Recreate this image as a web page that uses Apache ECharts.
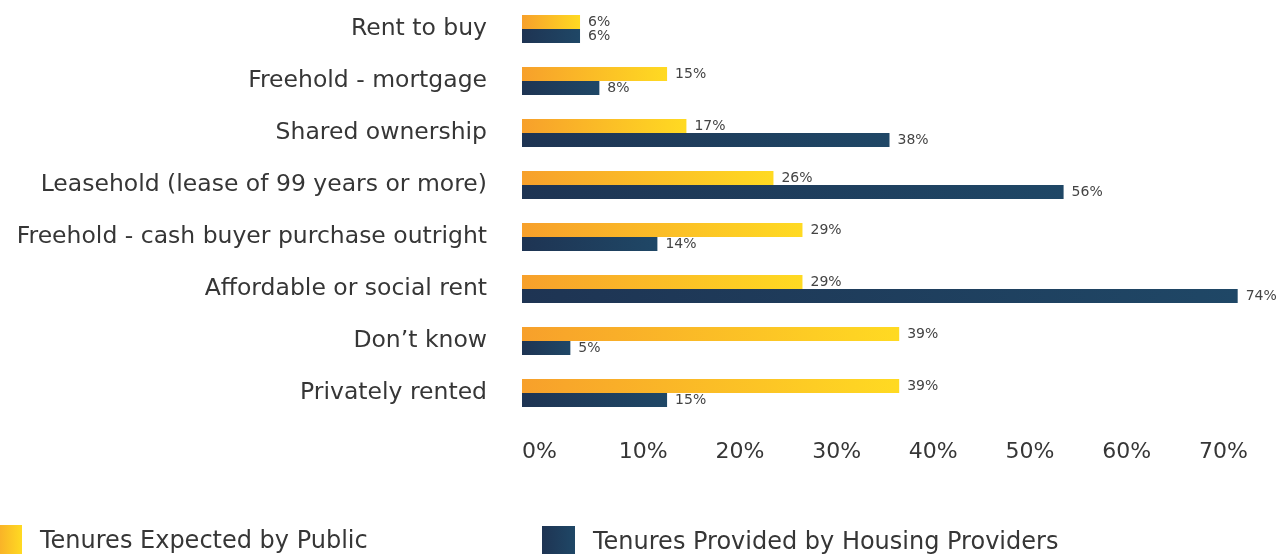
<!DOCTYPE html>
<html>
<head>
<meta charset="utf-8">
<script src="https://cdn.jsdelivr.net/npm/echarts@6/dist/echarts.min.js"></script>
<style>
html,body{margin:0;padding:0;background:#fff;}
#chart{width:1280px;height:554px;}
</style>
</head>
<body>
<div id="chart"></div>
<script>
var categories = ['Rent to buy', 'Freehold - mortgage', 'Shared ownership', 'Leasehold (lease of 99 years or more)', 'Freehold - cash buyer purchase outright', 'Affordable or social rent', 'Don\u2019t know', 'Privately rented'];
var publicValues = [6, 15, 17, 26, 29, 29, 39, 39];
var providerValues = [6, 8, 38, 56, 14, 74, 5, 15];
var seriesNames = ['Tenures Expected by Public', 'Tenures Provided by Housing Providers'];
var xTicks = [0, 10, 20, 30, 40, 50, 60, 70];

var FONT = 'DejaVu Sans';
var TEXT = '#363636';
var orangeGrad = new echarts.graphic.LinearGradient(0, 0, 1, 0, [
  {offset: 0, color: '#F7A02B'}, {offset: 1, color: '#FFDA22'}
]);
var navyGrad = new echarts.graphic.LinearGradient(0, 0, 1, 0, [
  {offset: 0, color: '#1E3453'}, {offset: 1, color: '#1F4766'}
]);

var chart = echarts.init(document.getElementById('chart'), null, {renderer: 'canvas'});
var labelStyle = {
  show: true, position: 'right', distance: 8,
  formatter: '{c}%', color: '#444', fontFamily: FONT, fontSize: 14
};
var legendText = {fontFamily: FONT, fontSize: 24, color: TEXT, padding: [0, 0, 0, 13]};
chart.setOption({
  animation: false,
  textStyle: {fontFamily: FONT},
  grid: {left: 522, right: 81, top: 3, height: 416, containLabel: false},
  legend: [
    {data: [seriesNames[0]], icon: 'rect', padding: 0, left: -11, top: 525, itemWidth: 33, itemHeight: 33, textStyle: legendText},
    {data: [seriesNames[1]], icon: 'rect', padding: 0, left: 542, top: 526, itemWidth: 33, itemHeight: 33, textStyle: legendText}
  ],
  xAxis: {
    type: 'value', min: xTicks[0], max: xTicks[xTicks.length - 1], interval: 10,
    axisLine: {show: false}, axisTick: {show: false}, splitLine: {show: false},
    axisLabel: {formatter: '{value}%', align: 'left', margin: 22, color: TEXT, fontFamily: FONT, fontSize: 22}
  },
  yAxis: {
    type: 'category', data: categories, inverse: true,
    axisLine: {show: false}, axisTick: {show: false}, splitLine: {show: false},
    axisLabel: {margin: 35, color: TEXT, fontFamily: FONT, fontSize: 23.5, verticalAlign: 'middle', padding: [0, 0, 5, 0]}
  },
  series: [
    {name: seriesNames[0], type: 'bar', data: publicValues, barWidth: 14, barGap: '0%', clip: false,
     itemStyle: {color: orangeGrad}, label: labelStyle},
    {name: seriesNames[1], type: 'bar', data: providerValues, barWidth: 14, barGap: '0%', clip: false,
     itemStyle: {color: navyGrad}, label: labelStyle}
  ]
});
</script>
</body>
</html>
